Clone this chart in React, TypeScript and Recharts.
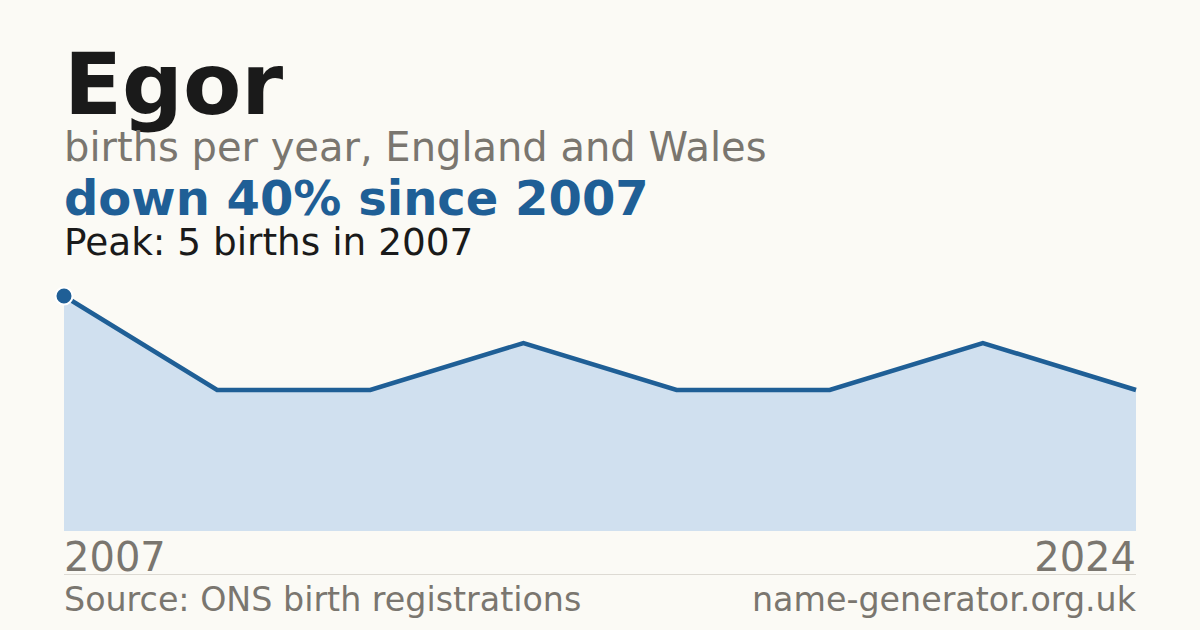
import React from 'react';
import { AreaChart, Area, XAxis, YAxis } from 'recharts';

// Years with a published count (fewer than 3 births are not shown by ONS)
const years = ['2007', '2009', '2012', '2014', '2016', '2019', '2021', '2024'];
const births = [5, 3, 3, 4, 3, 3, 4, 3];

const data = years.map((year, i) => ({ year, births: births[i] }));

const BG = '#fbfaf5';
const BLUE = '#1f5f96';
const FILL = '#d0e0ef';
const GREY = '#7a766f';
const INK = '#1a1a1a';
const FONT = '"DejaVu Sans", sans-serif';

const EndTick = (props: any) => {
  const { x, y, payload, index } = props;
  const last = years.length - 1;
  if (index !== 0 && index !== last) return <g />;
  return (
    <text
      x={x}
      y={y}
      dy={32}
      textAnchor={index === 0 ? 'start' : 'end'}
      fill={GREY}
      fontSize={40}
      fontFamily={FONT}
    >
      {payload.value}
    </text>
  );
};

const PeakDot = (props: any) => {
  const { cx, cy, index } = props;
  if (index !== 0) return <g key={`d${index}`} />;
  return <circle key={`d${index}`} cx={cx} cy={cy} r={8.5} fill={BLUE} stroke="#ffffff" strokeWidth={2} />;
};

const App: React.FC = () => {
  return (
    <div
      style={{
        position: 'absolute',
        left: 0,
        top: 0,
        width: 1200,
        height: 630,
        background: BG,
        overflow: 'hidden',
        fontFamily: FONT,
      }}
    >
      <svg width={1200} height={296} style={{ position: 'absolute', left: 0, top: 0 }}>
        <text x={64} y={114} fontSize={85} fontWeight="bold" fill={INK}>Egor</text>
        <text x={64} y={161} fontSize={40} fill={GREY}>births per year, England and Wales</text>
        <text x={64} y={215} fontSize={48} fontWeight="bold" fill={BLUE}>down 40% since 2007</text>
        <text x={64} y={255} fontSize={37.4} fill={INK}>Peak: 5 births in 2007</text>
      </svg>

      <div style={{ position: 'absolute', left: 0, top: 0 }}>
        <AreaChart
          width={1200}
          height={630}
          data={data}
          margin={{ top: 296, right: 64, bottom: 54, left: 64 }}
        >
          <XAxis
            dataKey="year"
            height={45}
            axisLine={false}
            tickLine={false}
            interval={0}
            tick={<EndTick />}
          />
          <YAxis hide domain={[0, 5]} />
          <Area
            type="linear"
            dataKey="births"
            stroke={BLUE}
            strokeWidth={4.5}
            fill={FILL}
            fillOpacity={1}
            dot={PeakDot}
            activeDot={false}
            isAnimationActive={false}
          />
        </AreaChart>
      </div>

      <div
        style={{
          position: 'absolute',
          left: 64,
          top: 574,
          width: 1072,
          height: 1,
          background: '#dddad3',
        }}
      />
      <svg width={1200} height={56} style={{ position: 'absolute', left: 0, top: 574 }}>
        <text x={64} y={37} fontSize={33.3} fill={GREY}>Source: ONS birth registrations</text>
        <text x={1136} y={37} fontSize={33.3} fill={GREY} textAnchor="end">name-generator.org.uk</text>
      </svg>
    </div>
  );
};

export default App;
